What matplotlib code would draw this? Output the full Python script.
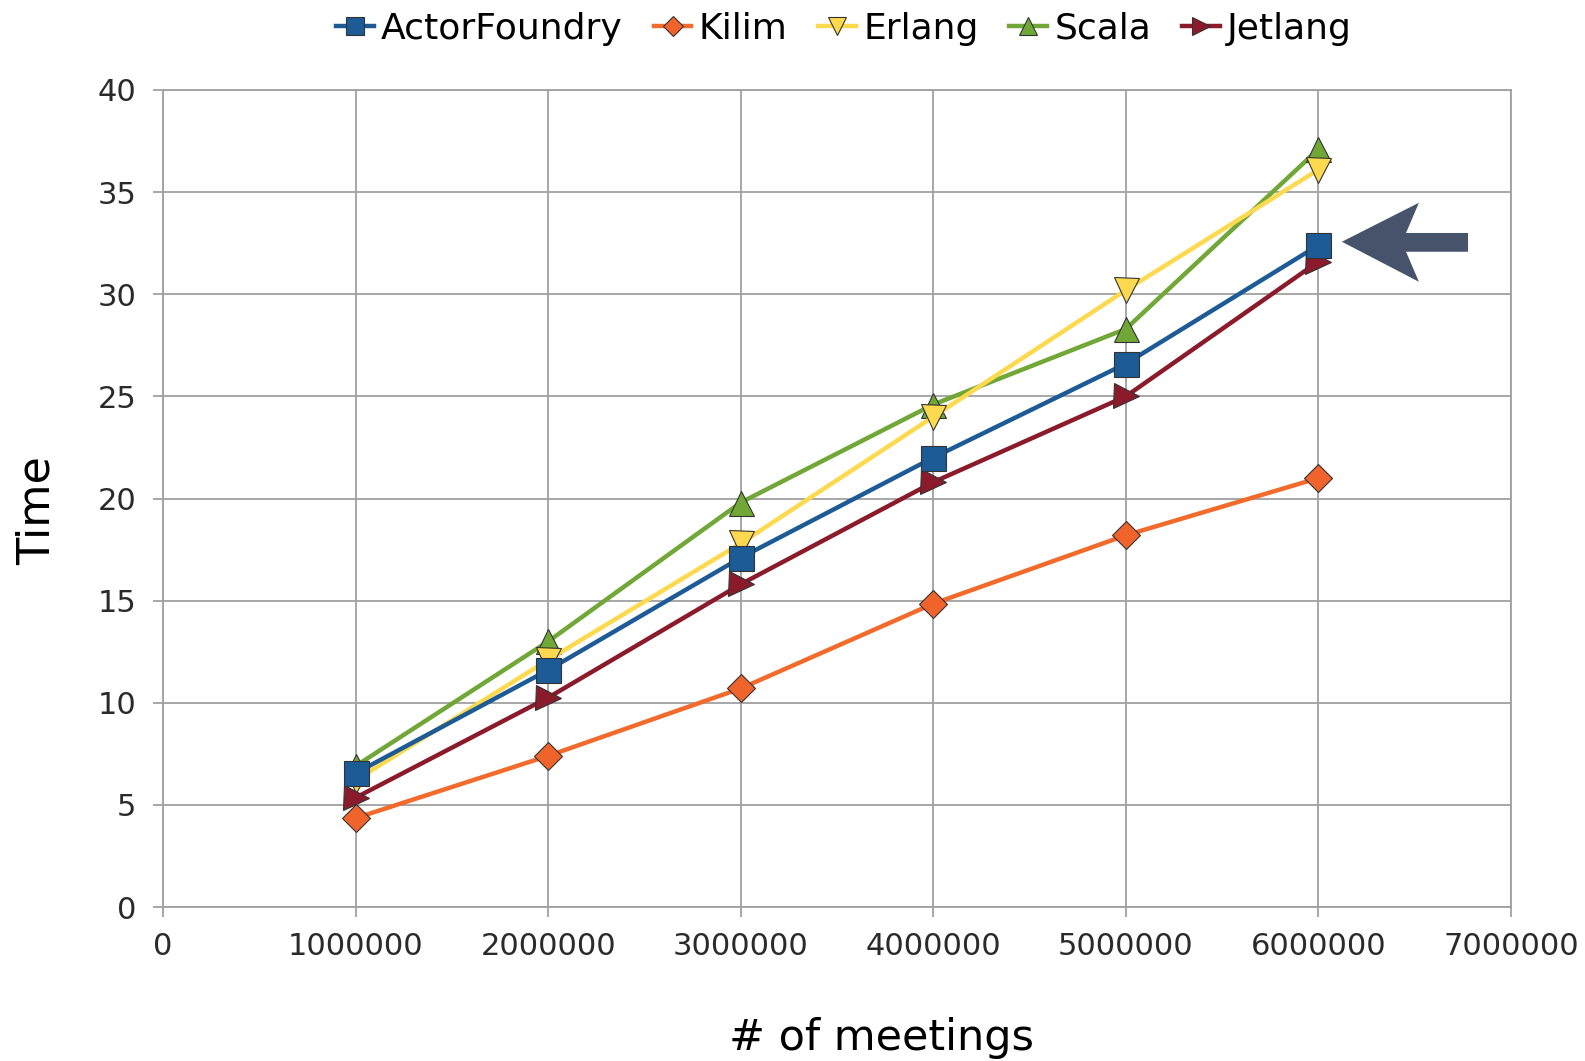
#import necessary libraries
import numpy as np
import matplotlib.pyplot as plt
from matplotlib.patches import Polygon

#number of meetings
meetings = [1000000, 2000000, 3000000, 4000000, 5000000, 6000000]
#run time of each actor library
actorfoundry = [6.55, 11.6, 17.1, 22.0, 26.6, 32.4]
kilim = [4.35, 7.4, 10.7, 14.85, 18.2, 21.0]
erlang = [6.2, 12.1, 17.8, 24.0, 30.2, 36.1]
scala = [6.9, 13.0, 19.8, 24.6, 28.3, 37.1]
jetlang = [5.35, 10.25, 15.8, 20.8, 25.0, 31.6]

fig = plt.figure(figsize=(15.85, 10.61), dpi=100)
ax = fig.add_axes([0.1028, 0.1451, 0.8505, 0.7701])

edge = "#333333"
lw = 3.2
#draw every series (zorder decides which markers sit on top)
ax.plot(meetings, actorfoundry, label="ActorFoundry", color="#1d5b97", linewidth=lw,
        marker="s", markersize=18, markerfacecolor="#1d5b97", markeredgecolor=edge,
        markeredgewidth=0.8, zorder=7)
ax.plot(meetings, kilim, label="Kilim", color="#f26b2c", linewidth=lw,
        marker="D", markersize=14, markerfacecolor="#f0632a", markeredgecolor=edge,
        markeredgewidth=0.8, zorder=3)
ax.plot(meetings, erlang, label="Erlang", color="#fcd94e", linewidth=lw,
        marker="v", markersize=18, markerfacecolor="#fcd94e", markeredgecolor=edge,
        markeredgewidth=0.8, zorder=5)
ax.plot(meetings, scala, label="Scala", color="#70a737", linewidth=lw,
        marker="^", markersize=18, markerfacecolor="#70a737", markeredgecolor=edge,
        markeredgewidth=0.8, zorder=4)
ax.plot(meetings, jetlang, label="Jetlang", color="#8b1a2b", linewidth=lw,
        marker=">", markersize=18, markerfacecolor="#8b1a2b", markeredgecolor=edge,
        markeredgewidth=0.8, zorder=6)

#arrow pointing at the ActorFoundry end point
arrow = Polygon([(6.122e6, 32.57), (6.522e6, 34.48), (6.455e6, 33.0), (6.777e6, 33.0),
                 (6.777e6, 32.08), (6.455e6, 32.08), (6.522e6, 30.61)],
                closed=True, facecolor="#46536a", edgecolor="none", zorder=8,
                clip_on=False)
ax.add_patch(arrow)

#axes, grid and labels
ax.set_xlim(0, 7000000)
ax.set_ylim(0, 40)
ax.set_xticks(np.arange(0, 7000001, 1000000))
ax.set_yticks(np.arange(0, 41, 5))
ax.ticklabel_format(style="plain", axis="x")
ax.grid(True, color="#a0a0a0", linewidth=1.3)
ax.set_axisbelow(True)
for s in ax.spines.values():
    s.set_color("#a0a0a0")
    s.set_linewidth(1.3)
ax.tick_params(colors="#a0a0a0", labelcolor="#2a2a2a", labelsize=22, length=7, width=1.3)
ax.tick_params(axis="x", pad=11)
ax.tick_params(axis="y", pad=12)
ax.set_xlabel("# of meetings", fontsize=31, labelpad=40)
ax.set_ylabel("Time", fontsize=32, labelpad=28)
ax.xaxis.label.set_x(0.533)
ax.yaxis.label.set_y(0.485)

ax.legend(loc="center", bbox_to_anchor=(0.5325, 0.973), bbox_transform=fig.transFigure,
          ncol=5, frameon=False, fontsize=26, handlelength=1.05, handletextpad=0.2,
          columnspacing=0.85, markerscale=0.75, borderpad=0.1)

plt.savefig("out.png", dpi=100)
